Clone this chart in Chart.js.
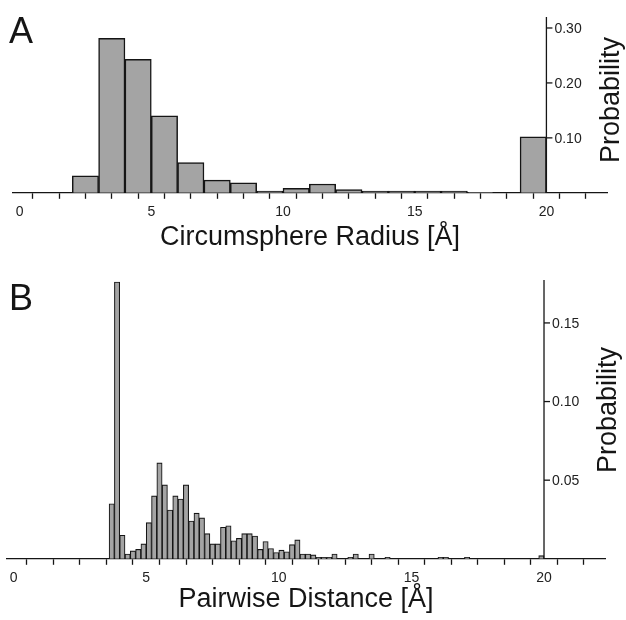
<!DOCTYPE html>
<html>
<head>
<meta charset="utf-8">
<script src="https://cdn.jsdelivr.net/npm/chart.js@4.4.1/dist/chart.umd.min.js"></script>
<style>
  html, body { margin: 0; background: #fff; overflow: hidden; }
  #wrap { position: relative; width: 626px; height: 620px; overflow: hidden; }
  canvas { position: absolute; left: 0; }
</style>
</head>
<body>
<div id="wrap">
  <canvas id="chartA" width="626" height="254" style="top:0px"></canvas>
  <canvas id="chartB" width="626" height="357" style="top:263px"></canvas>
</div>
<script>
// Panel A: circumsphere radius histogram (1 Å bins, value = bin centre)
const radiusBins = [2.5, 3.5, 4.5, 5.5, 6.5, 7.5, 8.5, 9.5, 10.5, 11.5, 12.5, 13.5, 14.5, 15.5, 16.5, 17.5, 19.5];
const radiusProb = [0.031, 0.281, 0.243, 0.140, 0.055, 0.023, 0.018, 0.003, 0.008, 0.016, 0.006, 0.003, 0.003, 0.003, 0.003, 0.001, 0.102];

// Panel B: pairwise distance histogram (0.2 Å bins, value = bin centre)
const distBins = [3.7, 3.9, 4.1, 4.3, 4.5, 4.7, 4.9, 5.1, 5.3, 5.5, 5.7, 5.9, 6.1, 6.3, 6.5, 6.7, 6.9,
  7.1, 7.3, 7.5, 7.7, 7.9, 8.1, 8.3, 8.5, 8.7, 8.9, 9.1, 9.3, 9.5, 9.7, 9.9, 10.1, 10.3, 10.5, 10.7, 10.9,
  11.1, 11.3, 11.5, 11.7, 11.9, 12.1, 12.7, 12.9, 13.5, 14.1, 16.1, 16.3, 17.1, 19.9];
const distProb = [0.035, 0.176, 0.015, 0.003, 0.005, 0.006, 0.0095, 0.023, 0.040, 0.061, 0.047, 0.031, 0.040, 0.038, 0.047, 0.024, 0.029,
  0.026, 0.016, 0.0095, 0.0095, 0.020, 0.021, 0.0115, 0.013, 0.016, 0.016, 0.0145, 0.006, 0.011, 0.0065, 0.004, 0.0055, 0.0045, 0.009, 0.012, 0.003,
  0.003, 0.0025, 0.001, 0.001, 0.001, 0.003, 0.001, 0.003, 0.003, 0.001, 0.001, 0.001, 0.001, 0.002];

const xTickValues = [0, 1, 2, 3, 4, 5, 6, 7, 8, 9, 10, 11, 12, 13, 14, 15, 16, 17, 18, 19, 20, 21, 22];
const yTicksA = [0.10, 0.20, 0.30];
const yTicksB = [0.05, 0.10, 0.15];

const FONT = '"Liberation Sans", Arial, Helvetica, sans-serif';
const INK = '#151515';

// y axis sits at x = 20 with ticks pointing right, so it is drawn here
const rightAxis = {
  id: 'rightAxis',
  afterDraw(chart, args, opts) {
    const { ctx, scales: { x, y }, chartArea } = chart;
    const px = x.getPixelForValue(opts.at);
    ctx.save();
    ctx.strokeStyle = INK;
    ctx.lineWidth = 1.3;
    ctx.beginPath();
    ctx.moveTo(px, chartArea.top);
    ctx.lineTo(px, chartArea.bottom);
    ctx.stroke();
    ctx.fillStyle = '#222';
    ctx.font = '14px ' + FONT;
    ctx.textAlign = 'left';
    ctx.textBaseline = 'middle';
    opts.ticks.forEach(v => {
      const py = y.getPixelForValue(v);
      ctx.beginPath();
      ctx.moveTo(px, py);
      ctx.lineTo(px + 6, py);
      ctx.stroke();
      ctx.fillText(v.toFixed(2), px + 8, py + 1);
    });
    ctx.fillStyle = INK;
    ctx.font = '27px ' + FONT;
    ctx.textAlign = 'center';
    ctx.save();
    ctx.translate(opts.titleX, opts.titleY);
    ctx.rotate(-Math.PI / 2);
    ctx.fillText('Probability', 0, 0);
    ctx.restore();
    ctx.font = '36px ' + FONT;
    ctx.textAlign = 'left';
    ctx.textBaseline = 'alphabetic';
    ctx.fillText(opts.letter, 9, opts.letterY);
    ctx.restore();
  }
};

function makeChart(id, bins, probs, cfg) {
  const ctx = document.getElementById(id).getContext('2d');
  return new Chart(ctx, {
    type: 'bar',
    data: {
      datasets: [{
        data: bins.map((b, i) => ({ x: b, y: probs[i] })),
        backgroundColor: '#a4a4a4',
        borderColor: INK,
        borderWidth: cfg.barBorder,
        barPercentage: 1,
        categoryPercentage: 1,
      }],
    },
    options: {
      responsive: false,
      animation: false,
      layout: { padding: cfg.padding },
      plugins: {
        legend: { display: false },
        tooltip: { enabled: false },
        rightAxis: cfg.axis,
      },
      scales: {
        x: {
          type: 'linear',
          min: -0.25,
          max: 22.3,
          offset: false,
          afterBuildTicks: s => { s.ticks = xTickValues.map(v => ({ value: v })); },
          ticks: {
            autoSkip: false,
            maxRotation: 0,
            padding: 5,
            color: '#222',
            font: { size: 14, family: FONT },
            callback: v => (v % 5 === 0 ? String(v) : ''),
          },
          grid: { drawOnChartArea: false, drawTicks: true, tickLength: 6, tickColor: INK, tickWidth: 1.3 },
          border: { color: INK, width: 1.3 },
          title: {
            display: true,
            text: cfg.title,
            color: INK,
            font: { size: 27, family: FONT },
            padding: cfg.titlePad,
          },
        },
        y: { display: false, min: 0, max: cfg.yMax },
      },
    },
    plugins: [rightAxis],
  });
}

makeChart('chartA', radiusBins, radiusProb, {
  title: 'Circumsphere Radius [Å]',
  yMax: 0.32,
  barBorder: 1.5,
  padding: { top: 17, left: 13, right: 19, bottom: 0 },
  titlePad: { top: -4, bottom: 0 },
  axis: { at: 20, ticks: yTicksA, titleX: 612, titleY: 100, letter: 'A', letterY: 43 },
});

makeChart('chartB', distBins, distProb, {
  title: 'Pairwise Distance [Å]',
  yMax: 0.1773,
  barBorder: 1.1,
  padding: { top: 17, left: 7, right: 21, bottom: 4 },
  titlePad: { top: -8, bottom: 0 },
  axis: { at: 20, ticks: yTicksB, titleX: 609, titleY: 147, letter: 'B', letterY: 47 },
});
</script>
</body>
</html>
